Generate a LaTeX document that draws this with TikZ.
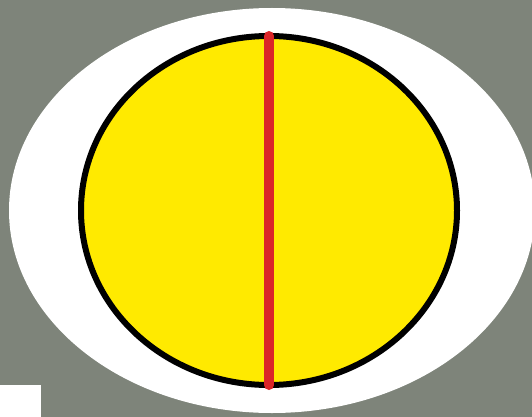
\documentclass[tikz,border=0pt]{standalone}
\usepackage{tikz}
\usetikzlibrary{shapes.geometric}
\definecolor{boardgray}{RGB}{126,132,122}
\definecolor{sunyellow}{RGB}{255,234,0}
\definecolor{cutred}{RGB}{218,38,40}

\begin{document}
\begin{tikzpicture}[
    x=1pt, y=-1pt,
    halo/.style={ellipse, fill=white, draw=none, inner sep=0pt,
                 minimum width=526pt, minimum height=405pt},
    disc/.style={ellipse, fill=sunyellow, draw=black, line width=6pt, inner sep=0pt,
                 minimum width=376pt, minimum height=349pt},
    cut/.style={cutred, line width=10pt, line cap=round}
]
    % Background
    \fill[boardgray] (0,0) rectangle (532,417);
    \useasboundingbox (0,0) rectangle (532,417);
    \fill[white] (0,385) rectangle (41,417);

    % Ellipses
    \node[halo] (halo) at (272,210.5) {};
    \node[disc] (disc) at (269,210.5) {};

    % Red line
    \draw[cut] ([yshift=-3pt]disc.north) -- ([yshift=3pt]disc.south);
\end{tikzpicture}
\end{document}
